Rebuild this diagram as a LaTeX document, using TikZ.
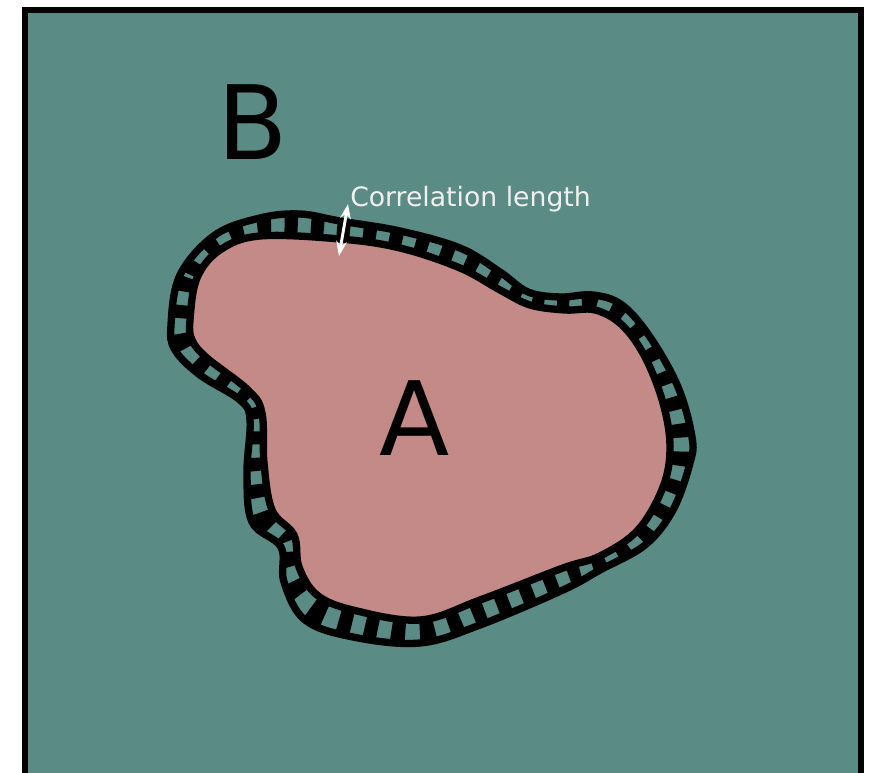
\documentclass[tikz,border=0pt]{standalone}
\usepackage{fontspec}
\setmainfont{DejaVu Sans}
\usetikzlibrary{arrows.meta}
\definecolor{bgteal}{HTML}{5A8B84}
\definecolor{blobpink}{HTML}{C48A88}
\tikzset{
  outline/.style={draw=black, line width=5.5pt, line join=round},
  bandstripes/.style={draw=black, line width=40pt, dash pattern=on 9.75pt off 9.75pt},
  bigletter/.style={font=\fontsize{77}{77}\selectfont, text=black, inner sep=0pt},
  corrlabel/.style={font=\fontsize{20}{20}\selectfont, text=white!94!black, inner sep=0pt, anchor=base west},
  corrarrow/.style={draw=white, line width=2.2pt, {Stealth[length=11pt,width=8pt]}-{Stealth[length=11pt,width=8pt]}}
}
\begin{document}
\begin{tikzpicture}[x=0.75pt,y=-0.75pt]
\useasboundingbox (0,0) rectangle (875,773);
% background panel
\begin{scope}
\clip (0,0) rectangle (875,773);
\fill[bgteal] (25,10) rectangle (861,790);
\draw[black, line width=4.5pt] (25,10) rectangle (861,790);
\end{scope}
\def\outerpath{plot[smooth cycle, tension=0.6] coordinates {(171,325) (180,275) (215,235) (260,218) (300,214) (340,221) (400,231) (460,248) (500,272) (528,292) (560,297) (593,295) (622,305) (650,337) (678,387) (692,437) (690,463) (673,510) (645,545) (600,570) (563,590) (480,625) (420,643) (353,637) (305,620) (284,582) (281,547) (252,522) (247,473) (250,420) (240,400) (200,375) (175,350)}}
\def\innerpath{plot[smooth cycle, tension=0.6] coordinates {(190,320) (197,278) (220,250) (260,236) (340,239) (400,248) (460,268) (500,290) (530,305) (565,310) (595,310) (622,325) (645,357) (663,403) (670,447) (663,487) (638,530) (600,556) (563,568) (480,600) (420,620) (353,610) (317,595) (299,567) (294,535) (272,510) (264,463) (262,413) (248,390) (207,358) (192,340)}}
% correlation band
\begin{scope}
\clip \outerpath;
\draw[bandstripes] \innerpath;
\end{scope}
\draw[outline] \outerpath;
% region A
\fill[blobpink] \innerpath;
\draw[outline] \innerpath;
% labels
\node[bigletter] (labB) at (253,122) {B};
\node[bigletter] (labA) at (415,418) {A};
\node[corrlabel] (corr) at (350,207) {Correlation length};
\coordinate (arrlow) at (339,256);
\coordinate (arrhigh) at (348,204);
\draw[corrarrow] (arrlow) -- (arrhigh);
\end{tikzpicture}
\end{document}
